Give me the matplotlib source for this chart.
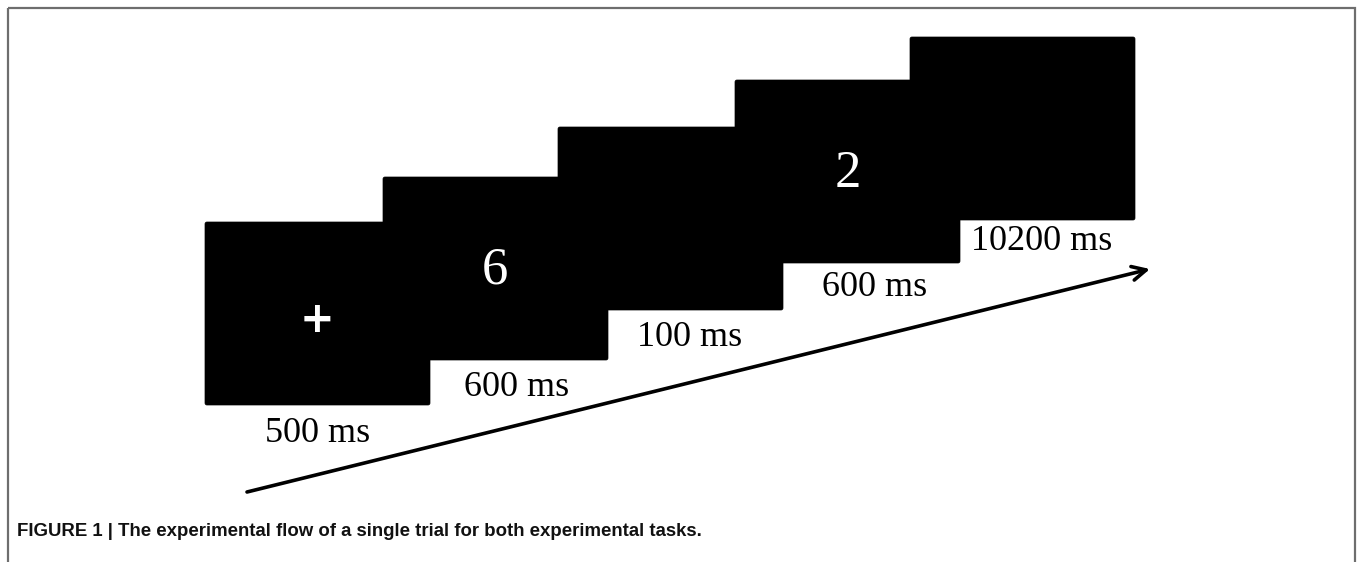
import matplotlib.pyplot as plt
from matplotlib.patches import FancyBboxPatch, Rectangle

# trial sequence, one entry per screen
stimuli = ['+', '6', '', '2', '']
durations = ['500 ms', '600 ms', '100 ms', '600 ms', '10200 ms']
caption = 'FIGURE 1 | The experimental flow of a single trial for both experimental tasks.'

# layout in pixel units (y grows downward)
screen_x = [205, 383, 558, 735, 910]
screen_y = [222, 177, 127, 80, 37]
screen_w, screen_h = 225, 183
stim_xy = [(317, 320), (495, 270), None, (848, 174), None]
label_xy = [(318, 433), (517, 388), (690, 337), (875, 288), (1042, 242)]

W, H = 1357, 562
fig = plt.figure(figsize=(W / 100, H / 100), dpi=100)
ax = fig.add_axes([0, 0, 1, 1])
ax.set_xlim(0, W)
ax.set_ylim(H, 0)
ax.axis('off')

# outer frame
ax.add_patch(Rectangle((8, 8), 1347, 600, fill=False, edgecolor='#6e6e6e', lw=1.6))

for i, (x, y) in enumerate(zip(screen_x, screen_y)):
    ax.add_patch(FancyBboxPatch((x, y), screen_w, screen_h,
                                boxstyle='round,pad=0,rounding_size=2',
                                facecolor='black', edgecolor='black', lw=0.5))
    if stimuli[i] == '+':
        sx, sy = stim_xy[i]
        ax.text(sx, sy, stimuli[i], color='white', fontsize=30, fontweight='bold',
                family='DejaVu Sans', ha='center', va='center')
    elif stimuli[i]:
        sx, sy = stim_xy[i]
        ax.text(sx, sy, stimuli[i], color='white', fontsize=38,
                family='Liberation Serif', ha='center', va='center')
    lx, ly = label_xy[i]
    ax.text(lx, ly, durations[i], color='black', fontsize=26,
            family='Liberation Serif', ha='center', va='center')

# time arrow
ax.annotate('', xy=(1150, 269), xytext=(247, 492),
            arrowprops=dict(arrowstyle='->,head_length=1.0,head_width=0.5',
                            lw=2.6, color='black', shrinkA=0, shrinkB=0))

ax.text(17, 531, caption, fontsize=13.4, fontweight='bold',
        family='Liberation Sans', ha='left', va='center', color='#111111')

fig.savefig('out.png', dpi=100)
